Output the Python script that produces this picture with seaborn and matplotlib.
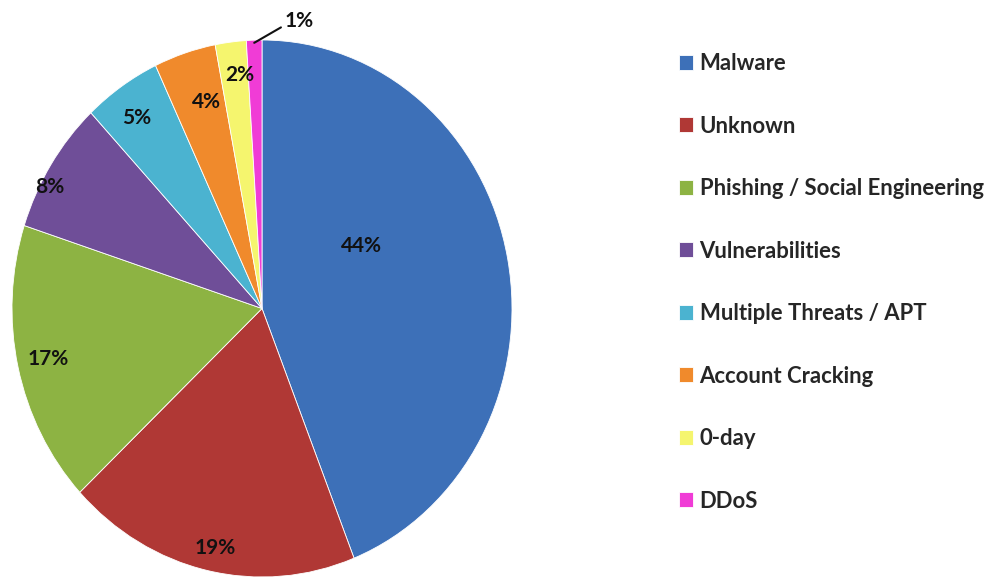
import numpy as np
import matplotlib
matplotlib.use("Agg")
import matplotlib.pyplot as plt
import seaborn as sns

categories = ["Malware", "Unknown", "Phishing / Social Engineering", "Vulnerabilities",
              "Multiple Threats / APT", "Account Cracking", "0-day", "DDoS"]
values = [44, 19, 17, 8, 5, 4, 2, 1]
pct_labels = ["44%", "19%", "17%", "8%", "5%", "4%", "2%", "1%"]
colors = ["#3D70B8", "#B03835", "#8DB343", "#6F4E98", "#4BB3D0", "#F08A2C", "#F5F56E", "#F03CD6"]

# label placement (radius fraction, angle offset deg) -- style only
label_r = [0.46, 0.91, 0.875, 0.96, 0.87, 0.80, 0.875, None]
label_dtheta = [19.6, 0.7, -0.3, 4.4, 1.1, -1.8, -1.4, 0]

sns.set_theme(style="white")
plt.rcParams['font.family'] = ['Lato', 'DejaVu Sans']

fig = plt.figure(figsize=(9.87, 5.79), dpi=100)
W, H = 987, 579
ax = fig.add_axes([12 / W, (579 - 577) / H, 500 / W, 537 / H])

wedges, _ = ax.pie(values, colors=colors, startangle=90, counterclock=False,
                   wedgeprops=dict(edgecolor="#ffffff", linewidth=0.6))
ax.set_aspect('auto')
ax.set_xlim(-1, 1)
ax.set_ylim(-1, 1)
ax.axis('off')

for i, w in enumerate(wedges):
    mid = np.deg2rad((w.theta1 + w.theta2) / 2 + label_dtheta[i])
    if label_r[i] is not None:
        ax.text(label_r[i] * np.cos(mid), label_r[i] * np.sin(mid), pct_labels[i],
                ha='center', va='center', fontsize=15, fontweight='bold', color='#111111')
    else:
        x0, y0 = 0.99 * np.cos(mid), 0.99 * np.sin(mid)
        ax.annotate(pct_labels[i], xy=(x0, y0), xytext=(x0 + 0.12, y0 + 0.08),
                    ha='left', va='center', fontsize=15, fontweight='bold', color='#111111',
                    annotation_clip=False,
                    arrowprops=dict(arrowstyle='-', color='#111111', lw=1.5,
                                    connectionstyle="angle,angleA=0,angleB=30,rad=0",
                                    shrinkA=0, shrinkB=0))

leg = fig.legend(wedges, categories, loc='upper left', bbox_to_anchor=(679 / W, 1 - 53 / H),
                 frameon=False, prop=dict(weight='bold', size=15.9),
                 handlelength=0.65, handleheight=0.65, handletextpad=0.28, labelspacing=1.88,
                 borderaxespad=0, borderpad=0)

fig.savefig("out.png", dpi=100)
